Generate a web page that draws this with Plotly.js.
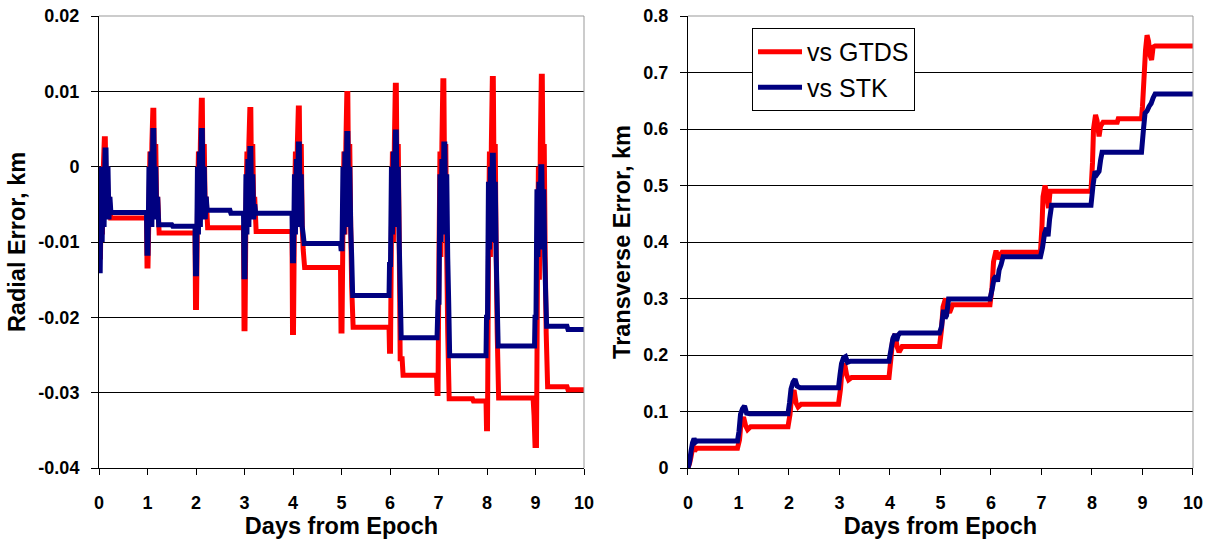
<!DOCTYPE html>
<html>
<head>
<meta charset="utf-8">
<script src="https://cdn.plot.ly/plotly-3.0.1.min.js"></script>
<style>html,body{margin:0;padding:0;background:#fff;}#chart{width:1208px;height:541px;}</style>
</head>
<body>
<div id="chart"></div>
<script>
// ---------- Radial error (left panel), km ----------
const radialGtdsX = [
  0, 0.01, 0.03, 0.05, 0.07, 0.09, 0.11, 0.13, 0.15, 0.17, 0.19, 0.21, 0.24,
  0.98, 0.99, 1.01, 1.03, 1.05, 1.07, 1.09, 1.11, 1.13, 1.15, 1.17, 1.19, 1.21, 1.24,
  1.98, 1.99, 2.01, 2.03, 2.05, 2.07, 2.09, 2.11, 2.13, 2.15, 2.17, 2.19, 2.21, 2.24,
  2.98, 2.99, 3.01, 3.03, 3.05, 3.07, 3.09, 3.11, 3.13, 3.15, 3.17, 3.19, 3.21, 3.24,
  3.98, 3.99, 4.01, 4.03, 4.05, 4.07, 4.09, 4.11, 4.13, 4.15, 4.17, 4.19, 4.21, 4.24,
  4.98, 4.99, 5.01, 5.03, 5.05, 5.07, 5.09, 5.11, 5.13, 5.15, 5.17, 5.19, 5.21, 5.24,
  5.98, 5.99, 6.01, 6.03, 6.05, 6.07, 6.09, 6.11, 6.13, 6.15, 6.17, 6.19, 6.21, 6.25, 6.27, 6.96,
  6.97, 6.99, 7.01, 7.03, 7.05, 7.07, 7.09, 7.11, 7.13, 7.15, 7.17, 7.19, 7.22, 7.7, 7.72, 7.98,
  7.99, 8.01, 8.03, 8.05, 8.07, 8.09, 8.11, 8.13, 8.15, 8.17, 8.19, 8.21, 8.24, 8.95,
  8.97, 8.99, 9.02, 9.04, 9.06, 9.08, 9.1, 9.12, 9.14, 9.16, 9.18, 9.2, 9.22, 9.25, 9.65, 9.67, 10
];
const radialGtdsY = [
  0, -0.012, -0.012, -0.002, -0.009, 0.0, 0.0037, 0.0037, -0.006, 0.0, -0.006, -0.004, -0.0068,
  -0.0068, -0.0132, -0.0132, -0.006, 0.002, -0.008, 0.003, 0.0075, 0.0075, -0.006, 0.003, -0.006, -0.004, -0.0088,
  -0.0088, -0.0187, -0.0187, -0.006, 0.002, -0.008, 0.003, 0.0088, 0.0088, -0.006, 0.003, -0.006, -0.004, -0.0081,
  -0.0081, -0.0215, -0.0215, -0.006, 0.002, -0.008, 0.003, 0.0076, 0.0076, -0.006, 0.003, -0.006, -0.004, -0.0086,
  -0.0086, -0.022, -0.022, -0.006, 0.002, -0.008, 0.003, 0.0078, 0.0078, -0.006, 0.003, -0.008, -0.011, -0.0134,
  -0.0134, -0.0218, -0.0218, -0.008, 0.002, -0.009, 0.003, 0.0097, 0.0097, -0.006, 0.003, -0.008, -0.016, -0.0213,
  -0.0213, -0.0245, -0.0245, -0.008, 0.002, -0.010, 0.003, 0.0108, 0.0108, -0.006, 0.003, -0.010, -0.0255, -0.0255, -0.0277, -0.0277,
  -0.0301, -0.0301, -0.012, 0.002, -0.012, 0.003, 0.0114, 0.0114, -0.006, 0.003, -0.012, -0.022, -0.0308, -0.0308, -0.0311, -0.0311,
  -0.0348, -0.0348, -0.012, 0.002, -0.012, 0.003, 0.0117, 0.0117, -0.006, 0.003, -0.012, -0.022, -0.0307, -0.0307,
  -0.033, -0.037, -0.037, -0.015, 0.0, -0.015, 0.003, 0.012, 0.012, -0.006, 0.003, -0.012, -0.022, -0.0292, -0.0292, -0.0296, -0.0296
];
const radialStkX = [
  0, 0.005, 0.025, 0.045, 0.065, 0.085, 0.105, 0.125, 0.145, 0.165, 0.185, 0.205, 0.225, 0.245,
  0.98, 0.99, 1.01, 1.03, 1.05, 1.07, 1.09, 1.11, 1.13, 1.15, 1.17, 1.19, 1.21, 1.23, 1.5, 1.52,
  1.98, 1.99, 2.01, 2.03, 2.05, 2.07, 2.09, 2.11, 2.13, 2.15, 2.17, 2.19, 2.21, 2.23, 2.7, 2.72,
  2.98, 2.99, 3.01, 3.03, 3.05, 3.07, 3.09, 3.11, 3.13, 3.15, 3.17, 3.19, 3.21, 3.23,
  3.98, 3.99, 4.01, 4.03, 4.05, 4.07, 4.09, 4.11, 4.13, 4.15, 4.17, 4.19, 4.21, 4.23,
  4.98, 4.99, 5.01, 5.03, 5.05, 5.07, 5.09, 5.11, 5.13, 5.15, 5.17, 5.19, 5.21, 5.23,
  5.98, 5.99, 6.01, 6.03, 6.05, 6.07, 6.09, 6.11, 6.13, 6.15, 6.17, 6.19, 6.21, 6.23,
  6.97, 6.99, 7.01, 7.03, 7.05, 7.07, 7.09, 7.11, 7.13, 7.15, 7.17, 7.19, 7.21, 7.23,
  7.98, 7.99, 8.01, 8.03, 8.05, 8.07, 8.09, 8.11, 8.13, 8.15, 8.17, 8.19, 8.21, 8.23,
  8.98, 8.99, 9.01, 9.03, 9.05, 9.07, 9.09, 9.11, 9.13, 9.15, 9.17, 9.19, 9.21, 9.23, 9.65, 9.67, 10
];
const radialStkY = [
  0, -0.0138, -0.0138, -0.001, -0.010, 0.0, -0.008, 0.0022, 0.0022, -0.007, 0.0, -0.007, -0.004, -0.0061,
  -0.0061, -0.0115, -0.0115, 0.0, -0.008, 0.002, -0.008, 0.0048, 0.0048, -0.007, 0.0, -0.007, -0.004, -0.0077, -0.0077, -0.0079,
  -0.0079, -0.0142, -0.0142, 0.0, -0.009, 0.002, -0.008, 0.0048, 0.0048, -0.007, 0.0, -0.007, -0.004, -0.0058, -0.0058, -0.0062,
  -0.0062, -0.0146, -0.0146, -0.001, -0.009, 0.001, -0.008, 0.0024, 0.0024, -0.007, -0.001, -0.007, -0.005, -0.0062,
  -0.0062, -0.0125, -0.0125, -0.001, -0.009, 0.001, -0.008, 0.003, 0.003, -0.007, -0.001, -0.008, -0.009, -0.0102,
  -0.0102, -0.0109, -0.0109, 0.0, -0.009, 0.002, -0.008, 0.0044, 0.0044, -0.007, 0.0, -0.008, -0.012, -0.0171,
  -0.0171, -0.013, -0.013, 0.0, -0.009, 0.002, -0.008, 0.0046, 0.0046, -0.007, 0.0, -0.010, -0.016, -0.0227,
  -0.0227, -0.018, -0.018, -0.001, -0.010, 0.001, -0.009, 0.003, 0.003, -0.008, -0.001, -0.012, -0.018, -0.0251,
  -0.0251, -0.020, -0.020, -0.002, -0.011, 0.0, -0.010, 0.0015, 0.0015, -0.009, -0.002, -0.012, -0.018, -0.0238,
  -0.0238, -0.020, -0.020, -0.003, -0.012, -0.002, -0.011, 0.0, 0.0, -0.010, -0.003, -0.012, -0.017, -0.0212, -0.0212, -0.0216, -0.0216
];

// ---------- Transverse error (right panel), km ----------
const transGtdsX = [
  0, 0.03, 0.06, 0.1, 0.13, 0.17, 0.98,
  1.02, 1.05, 1.1, 1.14, 1.18, 1.24, 1.98,
  2.02, 2.05, 2.1, 2.14, 2.18, 2.24, 2.98,
  3.02, 3.05, 3.1, 3.14, 3.18, 3.24, 3.98,
  4.02, 4.05, 4.1, 4.14, 4.18, 4.24, 4.98,
  5.02, 5.05, 5.1, 5.14, 5.18, 5.24, 5.98,
  6.02, 6.05, 6.1, 6.14, 6.17, 6.22, 6.98,
  7.01, 7.03, 7.07, 7.1, 7.14, 7.17, 7.22, 7.98,
  8.01, 8.03, 8.07, 8.1, 8.14, 8.17, 8.22, 8.5, 8.52, 8.98,
  9.0, 9.03, 9.06, 9.09, 9.12, 9.15, 9.18, 9.21, 9.25, 10
];
const transGtdsY = [
  0, 0.008, 0.02, 0.04, 0.03, 0.035, 0.035,
  0.05, 0.08, 0.09, 0.075, 0.068, 0.073, 0.073,
  0.095, 0.125, 0.138, 0.115, 0.108, 0.113, 0.113,
  0.14, 0.175, 0.185, 0.165, 0.156, 0.16, 0.16,
  0.195, 0.225, 0.237, 0.215, 0.205, 0.215, 0.215,
  0.245, 0.285, 0.30, 0.28, 0.275, 0.289, 0.289,
  0.32, 0.365, 0.385, 0.37, 0.375, 0.382, 0.382,
  0.43, 0.48, 0.50, 0.485, 0.46, 0.49, 0.49, 0.49,
  0.54, 0.60, 0.625, 0.615, 0.587, 0.605, 0.612, 0.612, 0.618, 0.618,
  0.64, 0.69, 0.74, 0.766, 0.755, 0.73, 0.722, 0.745, 0.747, 0.747
];
const transStkX = [
  0, 0.03, 0.06, 0.09, 0.12, 0.15, 0.18, 0.98,
  1.01, 1.04, 1.08, 1.12, 1.16, 1.22, 1.98,
  2.01, 2.04, 2.08, 2.12, 2.16, 2.22, 2.98,
  3.01, 3.04, 3.08, 3.12, 3.16, 3.22, 3.98,
  4.02, 4.06, 4.1, 4.13, 4.16, 4.2, 4.98,
  5.02, 5.06, 5.09, 5.12, 5.16, 5.98,
  6.02, 6.06, 6.1, 6.13, 6.16, 6.2, 6.24, 6.98,
  7.02, 7.06, 7.1, 7.13, 7.16, 7.2, 7.98,
  8.02, 8.06, 8.1, 8.14, 8.17, 8.2, 8.98,
  9.02, 9.05, 9.09, 9.13, 9.17, 9.21, 9.25, 10
];
const transStkY = [
  0, 0.01, 0.03, 0.045, 0.052, 0.046, 0.048, 0.048,
  0.065, 0.095, 0.105, 0.11, 0.097, 0.096, 0.096,
  0.115, 0.14, 0.152, 0.157, 0.145, 0.142, 0.142,
  0.165, 0.185, 0.195, 0.197, 0.187, 0.189, 0.189,
  0.21, 0.23, 0.237, 0.225, 0.235, 0.239, 0.239,
  0.25, 0.28, 0.265, 0.27, 0.299, 0.299,
  0.315, 0.335, 0.34, 0.33, 0.35, 0.36, 0.374, 0.374,
  0.39, 0.415, 0.425, 0.41, 0.44, 0.465, 0.465,
  0.50, 0.525, 0.52, 0.525, 0.545, 0.559, 0.559,
  0.60, 0.628, 0.632, 0.64, 0.645, 0.655, 0.662, 0.662
];

// ---------- Tick labels ----------
const radialTickVals = [-0.04, -0.03, -0.02, -0.01, 0, 0.01, 0.02];
const radialTickText = ['-0.04', '-0.03', '-0.02', '-0.01', '0', '0.01', '0.02'];
const transTickVals = [0, 0.1, 0.2, 0.3, 0.4, 0.5, 0.6, 0.7, 0.8];
const transTickText = ['0', '0.1', '0.2', '0.3', '0.4', '0.5', '0.6', '0.7', '0.8'];
const dayTickVals = [0, 1, 2, 3, 4, 5, 6, 7, 8, 9, 10];

const RED = '#FF0000', BLUE = '#000080';
const FONT = 'Liberation Sans, Arial, Helvetica, sans-serif';

const traces = [
  {x: radialGtdsX, y: radialGtdsY, xaxis: 'x', yaxis: 'y', mode: 'lines', name: 'vs GTDS',
   line: {color: RED, width: 5, simplify: false}, showlegend: true, legendgroup: 'g1'},
  {x: radialStkX, y: radialStkY, xaxis: 'x', yaxis: 'y', mode: 'lines', name: 'vs STK',
   line: {color: BLUE, width: 5, simplify: false}, showlegend: true, legendgroup: 'g2'},
  {x: transGtdsX, y: transGtdsY, xaxis: 'x2', yaxis: 'y2', mode: 'lines', name: 'vs GTDS',
   line: {color: RED, width: 5, simplify: false}, showlegend: false, legendgroup: 'g1'},
  {x: transStkX, y: transStkY, xaxis: 'x2', yaxis: 'y2', mode: 'lines', name: 'vs STK',
   line: {color: BLUE, width: 5, simplify: false}, showlegend: false, legendgroup: 'g2'}
];

const tickFont = {family: FONT, size: 18, color: '#000', weight: 'bold'};
const titleFont = {family: FONT, size: 23.5, color: '#000', weight: 'bold'};

function xAxis(domain, anchor) {
  return {
    domain: domain, anchor: anchor, range: [0, 10], tickvals: dayTickVals,
    showgrid: false, zeroline: false, showline: true, linecolor: '#000', linewidth: 1,
    ticks: 'outside', ticklen: 6, tickcolor: '#000', tickwidth: 1,
    tickfont: tickFont, ticklabelstandoff: 12,
    title: {text: 'Days from Epoch', font: titleFont, standoff: 5},
    fixedrange: true
  };
}
function yAxis(anchor, range, vals, text, title) {
  return {
    anchor: anchor, domain: [0, 1], range: range, tickvals: vals, ticktext: text,
    showgrid: true, gridcolor: '#000', gridwidth: 1, zeroline: false,
    showline: true, linecolor: '#000', linewidth: 1,
    ticks: 'outside', ticklen: 7, tickcolor: '#000', tickwidth: 1,
    tickfont: tickFont, ticklabelstandoff: 8,
    title: {text: title, font: titleFont, standoff: 6},
    fixedrange: true
  };
}

const layout = {
  width: 1208, height: 541,
  margin: {l: 99, r: 15, t: 16, b: 73},
  paper_bgcolor: '#fff', plot_bgcolor: '#fff',
  font: {family: FONT, color: '#000'},
  xaxis: xAxis([0, 0.44333], 'y'),
  yaxis: yAxis('x', [-0.04, 0.02], radialTickVals, radialTickText, 'Radial Error, km'),
  xaxis2: xAxis([0.53839, 1], 'y2'),
  yaxis2: yAxis('x2', [0, 0.8], transTickVals, transTickText, 'Transverse Error, km'),
  showlegend: true,
  legend: {
    x: 0.5969, y: 0.9735, xanchor: 'left', yanchor: 'top', xref: 'paper', yref: 'paper',
    bgcolor: '#fff', bordercolor: '#000', borderwidth: 1,
    font: {family: FONT, size: 25, color: '#000'},
    tracegroupgap: 2, traceorder: 'normal', itemwidth: 44
  },
  shapes: [
    {type: 'line', xref: 'x domain', yref: 'y domain', x0: 0, x1: 1, y0: 1, y1: 1, line: {color: '#999', width: 1}, layer: 'above'},
    {type: 'line', xref: 'x domain', yref: 'y domain', x0: 1, x1: 1, y0: 0, y1: 1, line: {color: '#999', width: 1}, layer: 'above'},
    {type: 'line', xref: 'x2 domain', yref: 'y2 domain', x0: 0, x1: 1, y0: 1, y1: 1, line: {color: '#999', width: 1}, layer: 'above'},
    {type: 'line', xref: 'x2 domain', yref: 'y2 domain', x0: 1, x1: 1, y0: 0, y1: 1, line: {color: '#999', width: 1}, layer: 'above'}
  ]
};

Plotly.newPlot('chart', traces, layout, {displayModeBar: false, staticPlot: true});
</script>
</body>
</html>
